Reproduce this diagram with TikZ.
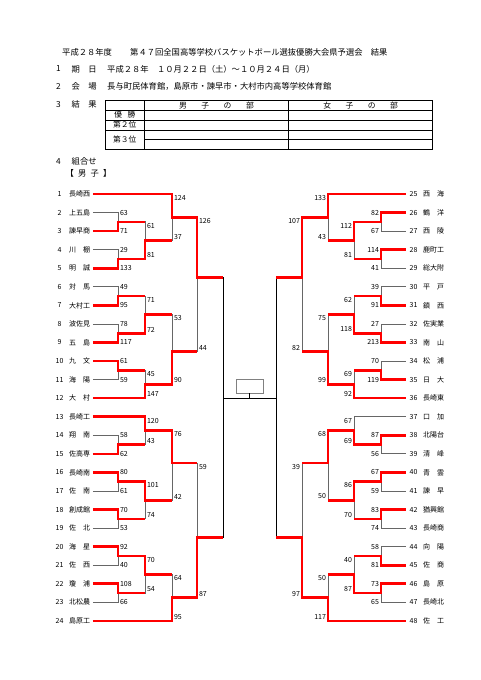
\documentclass[tikz,border=0pt]{standalone}
\usepackage{fontspec}
\setmainfont{Noto Sans CJK JP}
\tikzset{hd/.style={font=\fontsize{8.3}{8.3}\selectfont, inner sep=0pt, anchor=west}}
\tikzset{tb/.style={font=\fontsize{7.8}{7.8}\selectfont, inner sep=0pt}}
\tikzset{tm/.style={font=\fontsize{7}{7}\selectfont, inner xsep=2.5pt, anchor=west}}
\tikzset{no/.style={font=\fontsize{7}{7}\selectfont, inner xsep=3.5pt}}
\tikzset{sc/.style={font=\fontsize{7}{7}\selectfont, inner xsep=1.8pt, inner ysep=1pt}}
\tikzset{win/.style={draw=red, line width=2.6pt}}
\tikzset{lose/.style={draw=black!60, line width=0.8pt}}
\tikzset{fin/.style={draw=black, line width=0.9pt}}

\begin{document}
\begin{tikzpicture}[x=1pt, y=-1pt]
  \useasboundingbox (0,0) rectangle (481,680);
  % header
  \node[hd] (year) at (62,52.7) {平成２８年度};
  \node[hd] (title) at (130,52.7) {第４７回全国高等学校バスケットボール選抜優勝大会県予選会　結果};
  \node[hd] (i1) at (56,69) {1};
  \node[hd] (i1k) at (71.5,69) {期　日};
  \node[hd] (date) at (107,69) {平成２８年　１０月２２日（土）～１０月２４日（月）};
  \node[hd] (i2) at (56,86) {2};
  \node[hd] (i2k) at (71.5,86) {会　場};
  \node[hd] (hall) at (107,86) {長与町民体育館，島原市・諫早市・大村市内高等学校体育館};
  \node[hd] (i3) at (56,104.5) {3};
  \node[hd] (i3k) at (71.5,104.5) {結　果};
  \node[hd] (i4) at (56,161.7) {4};
  \node[hd] (i4k) at (71.5,161.7) {組合せ};
  \node[hd] (boys) at (65.5,173.3) {【\enspace 男\enspace 子\enspace 】};
  % results table
  \draw[line width=0.9pt] (105.3,100.7) rectangle (432.7,149.3);
  \draw[line width=0.8pt] (105.3,110) -- (432.7,110) (105.3,120) -- (432.7,120)
    (105.3,130) -- (432.7,130) (144.3,139.5) -- (432.7,139.5)
    (144.3,100.7) -- (144.3,149.3) (288.7,100.7) -- (288.7,149.3);
  \node[tb] (hb) at (216.5,105.4) {男\hspace{14.5pt}子\hspace{14.5pt}の\hspace{14.5pt}部};
  \node[tb] (hg) at (360.7,105.4) {女\hspace{14.5pt}子\hspace{14.5pt}の\hspace{14.5pt}部};
  \node[tb] (rk1) at (124.8,115) {優\hspace{5.5pt}勝};
  \node[tb] (rk2) at (124.8,125) {第２位};
  \node[tb] (rk3) at (124.8,139.6) {第３位};
  % cup box
  \node[draw=black!50, line width=0.7pt, minimum width=27pt, minimum height=14pt, inner sep=0pt] (cup) at (249.5,386) {};

  \begin{scope}[y=-18.56pt, yshift=-175.44pt]
    % boys, left half
    \node[no] (n1) at (59.5,1) {1};   \node[tm] (t1) at (66.5,1) {長崎西};
    \node[no] (n2) at (59.5,2) {2};   \node[tm] (t2) at (66.5,2) {上五島};
    \node[no] (n3) at (59.5,3) {3};   \node[tm] (t3) at (66.5,3) {諫早商};
    \node[no] (n4) at (59.5,4) {4};   \node[tm] (t4) at (66.5,4) {川　棚};
    \node[no] (n5) at (59.5,5) {5};   \node[tm] (t5) at (66.5,5) {明　誠};
    \node[no] (n6) at (59.5,6) {6};   \node[tm] (t6) at (66.5,6) {対　馬};
    \node[no] (n7) at (59.5,7) {7};   \node[tm] (t7) at (66.5,7) {大村工};
    \node[no] (n8) at (59.5,8) {8};   \node[tm] (t8) at (66.5,8) {波佐見};
    \node[no] (n9) at (59.5,9) {9};   \node[tm] (t9) at (66.5,9) {五　島};
    \node[no] (n10) at (59.5,10) {10}; \node[tm] (t10) at (66.5,10) {九　文};
    \node[no] (n11) at (59.5,11) {11}; \node[tm] (t11) at (66.5,11) {海　陽};
    \node[no] (n12) at (59.5,12) {12}; \node[tm] (t12) at (66.5,12) {大　村};
    \node[no] (n13) at (59.5,13) {13}; \node[tm] (t13) at (66.5,13) {長崎工};
    \node[no] (n14) at (59.5,14) {14}; \node[tm] (t14) at (66.5,14) {翔　南};
    \node[no] (n15) at (59.5,15) {15}; \node[tm] (t15) at (66.5,15) {佐高専};
    \node[no] (n16) at (59.5,16) {16}; \node[tm] (t16) at (66.5,16) {長崎南};
    \node[no] (n17) at (59.5,17) {17}; \node[tm] (t17) at (66.5,17) {佐　南};
    \node[no] (n18) at (59.5,18) {18}; \node[tm] (t18) at (66.5,18) {創成館};
    \node[no] (n19) at (59.5,19) {19}; \node[tm] (t19) at (66.5,19) {佐　北};
    \node[no] (n20) at (59.5,20) {20}; \node[tm] (t20) at (66.5,20) {海　星};
    \node[no] (n21) at (59.5,21) {21}; \node[tm] (t21) at (66.5,21) {佐　西};
    \node[no] (n22) at (59.5,22) {22}; \node[tm] (t22) at (66.5,22) {瓊　浦};
    \node[no] (n23) at (59.5,23) {23}; \node[tm] (t23) at (66.5,23) {北松農};
    \node[no] (n24) at (59.5,24) {24}; \node[tm] (t24) at (66.5,24) {島原工};
    % boys, right half
    \node[no] (n25) at (413.5,1) {25}; \node[tm] (t25) at (420.5,1) {西　海};
    \node[no] (n26) at (413.5,2) {26}; \node[tm] (t26) at (420.5,2) {鶴　洋};
    \node[no] (n27) at (413.5,3) {27}; \node[tm] (t27) at (420.5,3) {西　陵};
    \node[no] (n28) at (413.5,4) {28}; \node[tm] (t28) at (420.5,4) {鹿町工};
    \node[no] (n29) at (413.5,5) {29}; \node[tm] (t29) at (420.5,5) {総大附};
    \node[no] (n30) at (413.5,6) {30}; \node[tm] (t30) at (420.5,6) {平　戸};
    \node[no] (n31) at (413.5,7) {31}; \node[tm] (t31) at (420.5,7) {鎮　西};
    \node[no] (n32) at (413.5,8) {32}; \node[tm] (t32) at (420.5,8) {佐実業};
    \node[no] (n33) at (413.5,9) {33}; \node[tm] (t33) at (420.5,9) {南　山};
    \node[no] (n34) at (413.5,10) {34}; \node[tm] (t34) at (420.5,10) {松　浦};
    \node[no] (n35) at (413.5,11) {35}; \node[tm] (t35) at (420.5,11) {日　大};
    \node[no] (n36) at (413.5,12) {36}; \node[tm] (t36) at (420.5,12) {長崎東};
    \node[no] (n37) at (413.5,13) {37}; \node[tm] (t37) at (420.5,13) {口　加};
    \node[no] (n38) at (413.5,14) {38}; \node[tm] (t38) at (420.5,14) {北陽台};
    \node[no] (n39) at (413.5,15) {39}; \node[tm] (t39) at (420.5,15) {清　峰};
    \node[no] (n40) at (413.5,16) {40}; \node[tm] (t40) at (420.5,16) {青　雲};
    \node[no] (n41) at (413.5,17) {41}; \node[tm] (t41) at (420.5,17) {諫　早};
    \node[no] (n42) at (413.5,18) {42}; \node[tm] (t42) at (420.5,18) {猶興館};
    \node[no] (n43) at (413.5,19) {43}; \node[tm] (t43) at (420.5,19) {長崎商};
    \node[no] (n44) at (413.5,20) {44}; \node[tm] (t44) at (420.5,20) {向　陽};
    \node[no] (n45) at (413.5,21) {45}; \node[tm] (t45) at (420.5,21) {佐　商};
    \node[no] (n46) at (413.5,22) {46}; \node[tm] (t46) at (420.5,22) {島　原};
    \node[no] (n47) at (413.5,23) {47}; \node[tm] (t47) at (420.5,23) {長崎北};
    \node[no] (n48) at (413.5,24) {48}; \node[tm] (t48) at (420.5,24) {佐　工};

    % match points, left
    \coordinate (a1) at (118,2.5);    \coordinate (a2) at (118,4.5);
    \coordinate (a3) at (145,3.5);    \coordinate (a4) at (172,2.25);
    \coordinate (a5) at (118,6.5);    \coordinate (a6) at (118,8.5);
    \coordinate (a7) at (145,7.5);    \coordinate (a8) at (118,10.5);
    \coordinate (a9) at (145,11.25);  \coordinate (a10) at (172,9.5);
    \coordinate (a11) at (197,5.5);   \coordinate (a12) at (118,14.5);
    \coordinate (a13) at (145,13.75); \coordinate (a14) at (118,16.5);
    \coordinate (a15) at (118,18.5);  \coordinate (a16) at (145,17.5);
    \coordinate (a17) at (172,15.5);  \coordinate (a18) at (118,20.5);
    \coordinate (a19) at (118,22.5);  \coordinate (a20) at (145,21.5);
    \coordinate (a21) at (172,22.75); \coordinate (a22) at (197,19.5);
    \coordinate (sL) at (223,12);
    % match points, right
    \coordinate (b1) at (381,2.5);    \coordinate (b2) at (381,4.5);
    \coordinate (b3) at (354,3.5);    \coordinate (b4) at (328,2.25);
    \coordinate (b5) at (381,6.5);    \coordinate (b6) at (381,8.5);
    \coordinate (b7) at (354,7.5);    \coordinate (b8) at (381,10.5);
    \coordinate (b9) at (354,11.25);  \coordinate (b10) at (328,9.5);
    \coordinate (b11) at (302,5.5);   \coordinate (b12) at (381,14.5);
    \coordinate (b13) at (354,13.75); \coordinate (b14) at (381,16.5);
    \coordinate (b15) at (381,18.5);  \coordinate (b16) at (354,17.5);
    \coordinate (b17) at (328,15.5);  \coordinate (b18) at (381,20.5);
    \coordinate (b19) at (381,22.5);  \coordinate (b20) at (354,21.5);
    \coordinate (b21) at (328,22.75); \coordinate (b22) at (302,19.5);
    \coordinate (sR) at (276,12);

    % bracket lines
    \draw[lose] (t1.east) -| (a4) (t2.east) -| (a1) (t3.east) -| (a1)
      (t4.east) -| (a2) (t5.east) -| (a2) (a1) -| (a3) (a2) -| (a3) (a3) -| (a4)
      (t6.east) -| (a5) (t7.east) -| (a5) (t8.east) -| (a6) (t9.east) -| (a6)
      (a5) -| (a7) (a6) -| (a7) (t10.east) -| (a8) (t11.east) -| (a8)
      (a8) -| (a9) (t12.east) -| (a9) (a7) -| (a10) (a9) -| (a10)
      (a4) -| (a11) (a10) -| (a11)
      (t13.east) -| (a13) (t14.east) -| (a12) (t15.east) -| (a12) (a12) -| (a13)
      (t16.east) -| (a14) (t17.east) -| (a14) (t18.east) -| (a15) (t19.east) -| (a15)
      (a14) -| (a16) (a15) -| (a16) (a13) -| (a17) (a16) -| (a17)
      (t20.east) -| (a18) (t21.east) -| (a18) (t22.east) -| (a19) (t23.east) -| (a19)
      (a18) -| (a20) (a19) -| (a20) (a20) -| (a21) (t24.east) -| (a21)
      (a17) -| (a22) (a21) -| (a22);
    \draw[lose] (n25.west) -| (b4) (n26.west) -| (b1) (n27.west) -| (b1)
      (n28.west) -| (b2) (n29.west) -| (b2) (b1) -| (b3) (b2) -| (b3) (b3) -| (b4)
      (n30.west) -| (b5) (n31.west) -| (b5) (n32.west) -| (b6) (n33.west) -| (b6)
      (b5) -| (b7) (b6) -| (b7) (n34.west) -| (b8) (n35.west) -| (b8)
      (b8) -| (b9) (n36.west) -| (b9) (b7) -| (b10) (b9) -| (b10)
      (b4) -| (b11) (b10) -| (b11)
      (n37.west) -| (b13) (n38.west) -| (b12) (n39.west) -| (b12) (b12) -| (b13)
      (n40.west) -| (b14) (n41.west) -| (b14) (n42.west) -| (b15) (n43.west) -| (b15)
      (b14) -| (b16) (b15) -| (b16) (b13) -| (b17) (b16) -| (b17)
      (n44.west) -| (b18) (n45.west) -| (b18) (n46.west) -| (b19) (n47.west) -| (b19)
      (b18) -| (b20) (b19) -| (b20) (b20) -| (b21) (n48.west) -| (b21)
      (b17) -| (b22) (b21) -| (b22);
    \draw[fin] (a11) -| (sL) (a22) -| (sL) (sL) -- (sR)
      (b11) -| (sR) (b22) -| (sR) (cup.south) -- (cup.south |- sL);

    % winners
    \draw[win] (t1.east) -| (a4) -| (a11) -- (a11 -| sL);
    \draw[win] (t3.east) -| (a1) -- (a1 -| a3);
    \draw[win] (t5.east) -| (a2) -| (a3) -- (a3 -| a4);
    \draw[win] (t7.east) -| (a5) -- (a5 -| a7);
    \draw[win] (t9.east) -| (a6) -| (a7) -- (a7 -| a10);
    \draw[win] (t10.east) -| (a8) -- (a8 -| a9);
    \draw[win] (t12.east) -| (a9) -| (a10) -- (a10 -| a11);
    \draw[win] (t13.east) -| (a13) -| (a17) -- (a17 -| a22);
    \draw[win] (t15.east) -| (a12) -- (a12 -| a13);
    \draw[win] (t16.east) -| (a14) -| (a16) -- (a16 -| a17);
    \draw[win] (t18.east) -| (a15) -- (a15 -| a16);
    \draw[win] (t20.east) -| (a18) -| (a20) -- (a20 -| a21);
    \draw[win] (t22.east) -| (a19) -- (a19 -| a20);
    \draw[win] (t24.east) -| (a21) -| (a22) -- (a22 -| sL);
    \draw[win] (n25.west) -| (b4) -| (b11) -- (b11 -| sR);
    \draw[win] (n26.west) -| (b1) -| (b3) -- (b3 -| b4);
    \draw[win] (n28.west) -| (b2) -- (b2 -| b3);
    \draw[win] (n31.west) -| (b5) -- (b5 -| b7);
    \draw[win] (n33.west) -| (b6) -| (b7) -- (b7 -| b10);
    \draw[win] (n35.west) -| (b8) -- (b8 -| b9);
    \draw[win] (n36.west) -| (b9) -| (b10) -- (b10 -| b11);
    \draw[win] (n38.west) -| (b12) -| (b13) -| (b17) -- (b17 -| b22);
    \draw[win] (n40.west) -| (b14) -| (b16) -- (b16 -| b17);
    \draw[win] (n42.west) -| (b15) -- (b15 -| b16);
    \draw[win] (n45.west) -| (b18) -- (b18 -| b20);
    \draw[win] (n46.west) -| (b19) -| (b20) -- (b20 -| b21);
    \draw[win] (n48.west) -| (b21) -| (b22) -- (b22 -| sR);

    % scores, left
    \node[sc, right] (a1t) at (a1 |- t2) {63};
    \node[sc, right] (a1b) at (a1 |- t3) {71};
    \node[sc, right] (a2t) at (a2 |- t4) {29};
    \node[sc, right] (a2b) at (a2 |- t5) {133};
    \node[sc, below right] (a3t) at (a3 |- a1) {61};
    \node[sc, above right] (a3b) at (a3 |- a2) {81};
    \node[sc, below right] (a4t) at (a4 |- t1) {124};
    \node[sc, above right] (a4b) at (a4 |- a3) {37};
    \node[sc, right] (a5t) at (a5 |- t6) {49};
    \node[sc, right] (a5b) at (a5 |- t7) {95};
    \node[sc, right] (a6t) at (a6 |- t8) {78};
    \node[sc, right] (a6b) at (a6 |- t9) {117};
    \node[sc, below right] (a7t) at (a7 |- a5) {71};
    \node[sc, above right] (a7b) at (a7 |- a6) {72};
    \node[sc, right] (a8t) at (a8 |- t10) {61};
    \node[sc, right] (a8b) at (a8 |- t11) {59};
    \node[sc, below right] (a9t) at (a9 |- a8) {45};
    \node[sc, above right] (a9b) at (a9 |- t12) {147};
    \node[sc, below right] (a10t) at (a10 |- a7) {53};
    \node[sc, above right] (a10b) at (a10 |- a9) {90};
    \node[sc, below right] (a11t) at (a11 |- a4) {126};
    \node[sc, above right] (a11b) at (a11 |- a10) {44};
    \node[sc, right] (a12t) at (a12 |- t14) {58};
    \node[sc, right] (a12b) at (a12 |- t15) {62};
    \node[sc, below right] (a13t) at (a13 |- t13) {120};
    \node[sc, above right] (a13b) at (a13 |- a12) {43};
    \node[sc, right] (a14t) at (a14 |- t16) {80};
    \node[sc, right] (a14b) at (a14 |- t17) {61};
    \node[sc, right] (a15t) at (a15 |- t18) {70};
    \node[sc, right] (a15b) at (a15 |- t19) {53};
    \node[sc, below right] (a16t) at (a16 |- a14) {101};
    \node[sc, above right] (a16b) at (a16 |- a15) {74};
    \node[sc, below right] (a17t) at (a17 |- a13) {76};
    \node[sc, above right] (a17b) at (a17 |- a16) {42};
    \node[sc, right] (a18t) at (a18 |- t20) {92};
    \node[sc, right] (a18b) at (a18 |- t21) {40};
    \node[sc, right] (a19t) at (a19 |- t22) {108};
    \node[sc, right] (a19b) at (a19 |- t23) {66};
    \node[sc, below right] (a20t) at (a20 |- a18) {70};
    \node[sc, above right] (a20b) at (a20 |- a19) {54};
    \node[sc, below right] (a21t) at (a21 |- a20) {64};
    \node[sc, above right] (a21b) at (a21 |- t24) {95};
    \node[sc, below right] (a22t) at (a22 |- a17) {59};
    \node[sc, above right] (a22b) at (a22 |- a21) {87};
    % scores, right
    \node[sc, left] (b1t) at (b1 |- t26) {82};
    \node[sc, left] (b1b) at (b1 |- t27) {67};
    \node[sc, left] (b2t) at (b2 |- t28) {114};
    \node[sc, left] (b2b) at (b2 |- t29) {41};
    \node[sc, below left] (b3t) at (b3 |- b1) {112};
    \node[sc, above left] (b3b) at (b3 |- b2) {81};
    \node[sc, below left] (b4t) at (b4 |- t25) {133};
    \node[sc, above left] (b4b) at (b4 |- b3) {43};
    \node[sc, left] (b5t) at (b5 |- t30) {39};
    \node[sc, left] (b5b) at (b5 |- t31) {91};
    \node[sc, left] (b6t) at (b6 |- t32) {27};
    \node[sc, left] (b6b) at (b6 |- t33) {213};
    \node[sc, below left] (b7t) at (b7 |- b5) {62};
    \node[sc, above left] (b7b) at (b7 |- b6) {118};
    \node[sc, left] (b8t) at (b8 |- t34) {70};
    \node[sc, left] (b8b) at (b8 |- t35) {119};
    \node[sc, below left] (b9t) at (b9 |- b8) {69};
    \node[sc, above left] (b9b) at (b9 |- t36) {92};
    \node[sc, below left] (b10t) at (b10 |- b7) {75};
    \node[sc, above left] (b10b) at (b10 |- b9) {99};
    \node[sc, below left] (b11t) at (b11 |- b4) {107};
    \node[sc, above left] (b11b) at (b11 |- b10) {82};
    \node[sc, left] (b12t) at (b12 |- t38) {87};
    \node[sc, left] (b12b) at (b12 |- t39) {56};
    \node[sc, below left] (b13t) at (b13 |- t37) {67};
    \node[sc, above left] (b13b) at (b13 |- b12) {69};
    \node[sc, left] (b14t) at (b14 |- t40) {67};
    \node[sc, left] (b14b) at (b14 |- t41) {59};
    \node[sc, left] (b15t) at (b15 |- t42) {83};
    \node[sc, left] (b15b) at (b15 |- t43) {74};
    \node[sc, below left] (b16t) at (b16 |- b14) {86};
    \node[sc, above left] (b16b) at (b16 |- b15) {70};
    \node[sc, below left] (b17t) at (b17 |- b13) {68};
    \node[sc, above left] (b17b) at (b17 |- b16) {50};
    \node[sc, left] (b18t) at (b18 |- t44) {58};
    \node[sc, left] (b18b) at (b18 |- t45) {81};
    \node[sc, left] (b19t) at (b19 |- t46) {73};
    \node[sc, left] (b19b) at (b19 |- t47) {65};
    \node[sc, below left] (b20t) at (b20 |- b18) {40};
    \node[sc, above left] (b20b) at (b20 |- b19) {87};
    \node[sc, below left] (b21t) at (b21 |- b20) {50};
    \node[sc, above left] (b21b) at (b21 |- t48) {117};
    \node[sc, below left] (b22t) at (b22 |- b17) {39};
    \node[sc, above left] (b22b) at (b22 |- b21) {97};
  \end{scope}
\end{tikzpicture}
\end{document}
